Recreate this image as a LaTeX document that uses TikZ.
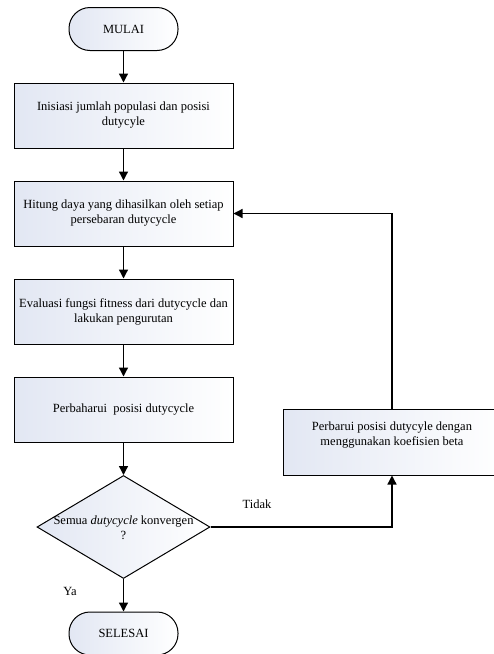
\documentclass[tikz,border=0pt]{standalone}
\usepackage{fontspec}
\setmainfont{Liberation Serif}
\usetikzlibrary{shapes.geometric,arrows.meta}
\definecolor{shadeblue}{RGB}{226,231,243}
\tikzset{
  x=1pt, y=-1pt,
  base/.style={draw=black, line width=1pt, font=\fontsize{12.5}{15}\selectfont, align=center, inner sep=2pt},
  shade/.style={left color=shadeblue, right color=white},
  term/.style={base, shade, rectangle, rounded corners=21pt, minimum width=109pt, minimum height=43pt},
  procbox/.style={base, shade, rectangle, minimum width=219pt, minimum height=65pt},
  decide/.style={base, shade, diamond, minimum width=173pt, minimum height=103pt, inner sep=0pt},
  conn/.style={line width=1.3pt, -{Triangle[length=9pt,width=9pt]}},
  lbl/.style={font=\fontsize{12.5}{15}\selectfont}
}
\begin{document}
\begin{tikzpicture}
\useasboundingbox (0,0) rectangle (494,654);
\clip (0,0) rectangle (494,654);
\node[term] (mulai) at (123.5,29) {MULAI};
\node[procbox] (b1) at (123.5,115.5) {Inisiasi jumlah populasi dan posisi\\dutycyle};
\node[procbox] (b2) at (123.5,213.5) {Hitung daya yang dihasilkan oleh setiap\\persebaran dutycycle};
\node[procbox] (b3) at (123.5,311.5) {Evaluasi fungsi fitness dari dutycycle dan\\lakukan pengurutan};
\node[procbox] (b4) at (123.5,409.5) {Perbaharui\ \ posisi dutycycle};
\node[decide] (dia) at (123.5,527) {};
\node[lbl, align=center] (diat) at (123.5,528) {Semua \textit{dutycycle} konvergen\\?};
\node[term] (selesai) at (123.5,633.5) {SELESAI};
\node[procbox, minimum width=218pt, minimum height=66pt] (rb) at (392,442) {};
\node[lbl, align=center] (rbt) at (392,435) {Perbarui posisi dutycyle dengan\\menggunakan koefisien beta};
\node[lbl] (tidak) at (257,504) {Tidak};
\node[lbl] (ya) at (70,591) {Ya};
\draw[conn] (mulai) -- (b1);
\draw[conn] (b1) -- (b2);
\draw[conn] (b2) -- (b3);
\draw[conn] (b3) -- (b4);
\draw[conn] (b4) -- (dia);
\draw[conn] (dia) -- (selesai);
\draw[conn] (dia.east) -| (rb.south);
\draw[conn] (rb.north) |- (b2.east);
\end{tikzpicture}
\end{document}
